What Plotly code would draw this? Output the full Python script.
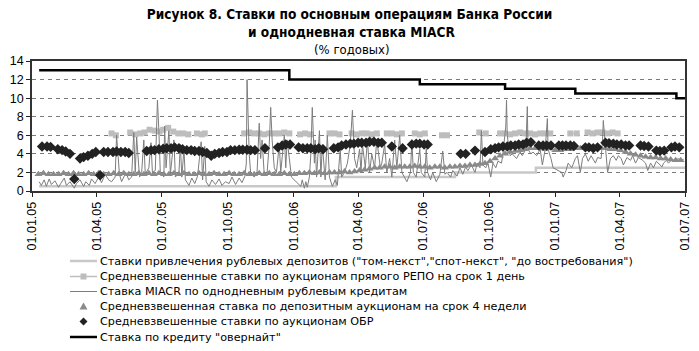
import plotly.graph_objects as go
import pandas as pd

# ---------------- data ----------------
# Overnight credit rate (step line)
overnight_dates = ['2005-01-11', '2005-12-26', '2006-06-26', '2006-10-23',
                   '2007-01-29', '2007-06-19', '2007-07-01']
overnight_vals = [13, 12, 11.5, 11, 10.5, 10, 10]

# Deposit rates tom-next / spot-next / call (step line)
deposit_dates = ['2005-01-11', '2006-03-01', '2006-08-14', '2006-12-05', '2007-07-01']
deposit_vals = [0.5, 1.5, 2.0, 2.5, 2.5]

# Weighted average 1-day direct REPO auction rates (None = no auctions)
repo_dates = [
    '2005-04-22', '2005-04-28', '2005-05-08',
    '2005-05-18', '2005-05-25', '2005-06-01', '2005-06-04',
    '2005-06-07', '2005-06-14', '2005-06-21', '2005-06-28', '2005-06-30',
    '2005-07-03', '2005-07-10', '2005-07-17', '2005-07-24', '2005-07-31', '2005-08-07', '2005-08-12',
    '2005-08-19', '2005-08-26', '2005-08-30', '2005-09-10',
    '2005-10-24', '2005-10-31', '2005-11-07', '2005-11-14', '2005-11-21', '2005-11-28',
    '2005-12-05', '2005-12-12', '2005-12-19', '2005-12-26', '2006-01-02',
    '2006-01-10', '2006-01-17', '2006-01-24', '2006-02-10',
    '2006-02-20', '2006-02-27', '2006-03-06', '2006-03-15',
    '2006-03-23', '2006-03-30', '2006-04-06', '2006-04-13', '2006-04-20', '2006-04-27', '2006-05-05',
    '2006-05-11', '2006-05-18', '2006-05-25', '2006-06-01', '2006-06-10',
    '2006-06-19', '2006-06-26', '2006-07-03', '2006-07-15',
    '2006-07-27', '2006-08-03', '2006-08-20',
    '2006-09-17', '2006-09-26', '2006-10-05',
    '2006-10-16', '2006-10-23', '2006-10-30', '2006-11-06', '2006-11-13', '2006-11-20',
    '2006-11-27', '2006-12-04', '2006-12-11', '2006-12-18', '2006-12-25', '2007-01-10',
    '2007-01-22', '2007-01-31', '2007-02-08',
    '2007-02-15', '2007-02-22', '2007-03-01', '2007-03-08', '2007-03-15', '2007-03-22', '2007-03-29',
]
repo_vals = [
    6.2, 6.0, None,
    6.3, 6.1, 6.2, None,
    6.3, 6.6, 6.5, 6.4, None,
    6.6, 6.8, 6.4, 6.2, 6.2, 6.1, None,
    6.2, 6.1, 6.2, None,
    6.2, 6.3, 6.2, 6.2, 6.1, 6.2,
    6.2, 6.2, 6.3, 6.2, None,
    6.1, 6.2, 6.1, None,
    6.2, 6.2, 6.1, None,
    6.2, 6.1, 6.2, 6.2, 6.1, 6.2, None,
    6.2, 6.2, 6.1, 6.2, None,
    6.2, 6.1, 6.2, None,
    6.0, 6.0, None,
    6.3, 6.2, None,
    6.2, 6.2, 6.1, 6.2, 6.3, 6.2,
    6.2, 6.1, 6.2, 6.2, 6.2, None,
    6.2, 6.2, None,
    6.3, 6.2, 6.3, 6.3, 6.2, 6.3, 6.2,
]

# MIACR overnight interbank rate
miacr_dates = [
    '2005-01-11', '2005-01-14', '2005-01-18', '2005-01-21', '2005-01-25', '2005-01-28',
    '2005-02-02', '2005-02-07', '2005-02-10', '2005-02-15', '2005-02-18', '2005-02-23',
    '2005-03-01', '2005-03-04', '2005-03-09', '2005-03-14', '2005-03-17', '2005-03-22', '2005-03-25', '2005-03-30',
    '2005-04-04', '2005-04-08', '2005-04-13', '2005-04-18', '2005-04-22', '2005-04-27', '2005-04-29',
    '2005-05-03', '2005-05-06', '2005-05-12', '2005-05-16', '2005-05-20', '2005-05-23', '2005-05-25', '2005-05-27', '2005-05-31',
    '2005-06-03', '2005-06-06', '2005-06-08', '2005-06-13', '2005-06-16', '2005-06-18', '2005-06-22', '2005-06-24', '2005-06-25', '2005-06-27', '2005-06-29',
    '2005-07-04', '2005-07-05', '2005-07-07', '2005-07-11', '2005-07-13', '2005-07-18', '2005-07-20', '2005-07-25', '2005-07-27', '2005-07-29',
    '2005-08-01', '2005-08-03', '2005-08-08', '2005-08-12', '2005-08-16', '2005-08-20', '2005-08-25', '2005-08-27', '2005-08-30',
    '2005-09-01', '2005-09-05', '2005-09-09', '2005-09-14', '2005-09-19', '2005-09-23', '2005-09-28',
    '2005-10-03', '2005-10-07', '2005-10-12', '2005-10-17', '2005-10-21', '2005-10-25', '2005-10-27', '2005-10-28', '2005-10-31',
    '2005-11-02', '2005-11-07', '2005-11-11', '2005-11-14', '2005-11-16', '2005-11-18', '2005-11-21', '2005-11-25', '2005-11-28', '2005-11-30',
    '2005-12-02', '2005-12-05', '2005-12-08', '2005-12-12', '2005-12-14', '2005-12-19', '2005-12-21', '2005-12-23', '2005-12-27', '2005-12-29',
    '2006-01-11', '2006-01-13', '2006-01-16', '2006-01-18', '2006-01-20', '2006-01-23', '2006-01-25', '2006-01-27', '2006-01-30', '2006-01-31',
    '2006-02-02', '2006-02-06', '2006-02-08', '2006-02-10', '2006-02-14', '2006-02-17', '2006-02-20', '2006-02-24', '2006-02-28',
    '2006-03-03', '2006-03-07', '2006-03-09', '2006-03-13', '2006-03-17', '2006-03-21', '2006-03-24', '2006-03-27', '2006-03-30',
    '2006-04-03', '2006-04-05', '2006-04-07', '2006-04-11', '2006-04-14', '2006-04-17', '2006-04-20', '2006-04-24', '2006-04-27',
    '2006-05-02', '2006-05-04', '2006-05-08', '2006-05-11', '2006-05-15', '2006-05-18', '2006-05-22', '2006-05-25', '2006-05-29',
    '2006-06-01', '2006-06-05', '2006-06-08', '2006-06-13', '2006-06-15', '2006-06-17', '2006-06-21', '2006-06-26', '2006-06-28',
    '2006-07-03', '2006-07-05', '2006-07-07', '2006-07-11', '2006-07-14', '2006-07-19', '2006-07-24', '2006-07-28', '2006-07-31',
    '2006-08-03', '2006-08-08', '2006-08-11', '2006-08-17', '2006-08-21', '2006-08-25', '2006-08-29',
    '2006-09-01', '2006-09-06', '2006-09-11', '2006-09-14', '2006-09-18', '2006-09-20', '2006-09-22', '2006-09-26', '2006-09-29',
    '2006-10-03', '2006-10-06', '2006-10-10', '2006-10-13', '2006-10-18', '2006-10-20', '2006-10-24', '2006-10-25', '2006-10-26', '2006-10-30',
    '2006-11-02', '2006-11-08', '2006-11-13', '2006-11-16', '2006-11-21', '2006-11-23', '2006-11-24', '2006-11-28',
    '2006-12-01', '2006-12-06', '2006-12-11', '2006-12-14', '2006-12-18', '2006-12-21', '2006-12-22', '2006-12-26', '2006-12-29',
    '2007-01-10', '2007-01-12', '2007-01-16', '2007-01-19', '2007-01-24', '2007-01-29',
    '2007-02-01', '2007-02-05', '2007-02-08', '2007-02-12', '2007-02-16', '2007-02-20', '2007-02-26',
    '2007-03-01', '2007-03-06', '2007-03-08', '2007-03-09', '2007-03-12', '2007-03-15', '2007-03-19', '2007-03-23', '2007-03-27', '2007-03-30',
    '2007-04-03', '2007-04-06', '2007-04-11', '2007-04-16', '2007-04-19', '2007-04-23', '2007-04-27',
    '2007-05-03', '2007-05-07', '2007-05-10', '2007-05-14', '2007-05-18', '2007-05-22', '2007-05-25', '2007-05-30',
    '2007-06-01', '2007-06-05', '2007-06-08', '2007-06-13', '2007-06-18', '2007-06-21', '2007-06-26', '2007-06-29',
]
miacr_vals = [
    1.0, 0.6, 1.2, 0.5, 1.3, 0.7,
    1.1, 0.4, 0.8, 1.4, 0.6, 1.0,
    0.3, 0.8, 1.2, 0.5, 1.0, 0.6, 1.3, 0.8,
    1.5, 0.9, 1.8, 1.2, 1.0, 1.5, 6.0,
    1.8, 1.0, 2.0, 1.2, 1.5, 6.3, 2.0, 5.8, 1.5,
    2.0, 5.5, 1.8, 2.5, 5.2, 2.0, 2.2, 6.0, 9.8, 6.5, 2.0,
    1.5, 7.0, 2.5, 6.5, 1.8, 5.5, 1.5, 2.0, 5.0, 1.5,
    4.5, 1.2, 0.6, 1.4, 0.8, 1.6, 5.3, 1.2, 4.8,
    1.0, 0.5, 1.2, 0.7, 1.3, 0.6, 1.0,
    0.8, 1.5, 0.7, 1.4, 0.9, 1.6, 3.0, 12.0, 4.0,
    2.0, 1.5, 2.0, 7.3, 3.5, 5.5, 1.8, 2.0, 5.0, 9.0,
    5.5, 2.5, 2.0, 5.0, 2.0, 6.0, 2.5, 5.5, 3.0, 1.5,
    0.5, 1.2, 0.3, 1.0, 0.4, 1.5, 4.0, 9.0, 3.0, 5.5,
    1.5, 6.5, 1.5, 5.0, 1.2, 6.0, 1.5, 0.5, 1.2,
    0.6, 4.5, 1.5, 2.0, 3.0, 5.0, 8.7, 3.5, 2.5,
    4.5, 2.0, 5.0, 2.5, 5.5, 2.0, 4.0, 2.5, 5.5,
    2.5, 3.0, 5.0, 2.0, 3.5, 1.5, 5.5, 2.5, 6.0,
    2.0, 1.5, 1.0, 2.0, 5.5, 2.0, 1.5, 4.5, 2.0,
    1.5, 4.5, 2.0, 1.2, 2.0, 1.0, 1.8, 4.3, 1.8,
    2.0, 1.5, 2.2, 1.6, 2.5, 1.8, 2.6,
    2.2, 2.8, 2.0, 3.0, 2.5, 6.5, 2.8, 2.5, 3.0,
    1.5, 3.0, 2.5, 3.2, 3.0, 4.0, 7.0, 9.8, 6.0, 3.8,
    4.0, 3.5, 4.2, 3.8, 4.5, 9.1, 4.5, 4.0,
    4.2, 3.8, 4.5, 2.8, 4.5, 7.8, 4.5, 3.5, 2.5,
    2.0, 1.5, 2.2, 3.0, 2.5, 3.5,
    3.8, 2.0, 3.5, 4.0, 3.2, 3.8, 3.0,
    3.6, 3.5, 5.5, 7.6, 4.5, 2.0, 3.5, 3.8, 3.3, 3.8,
    3.5, 2.8, 3.6, 3.3, 3.8, 3.0, 3.6,
    3.3, 3.0, 2.2, 3.0, 2.5, 3.2, 3.0, 2.6,
    3.0, 3.3, 3.0, 3.4, 3.2, 3.5, 3.3, 3.4,
]

# Weighted average rate of 4-week deposit auctions (weekly, from 10.01.2005)
dep4w_start = '2005-01-10'
dep4w_vals = [
    1.8, 1.9, 1.8, 1.8,            # Jan 2005
    1.8, 1.9, 1.8, 1.9,            # Feb
    1.8, 1.8, 1.9, 1.8,            # Mar
    1.9, 1.8, 1.8, 1.9,            # Apr
    1.8, 1.9, 1.8, 1.8, 1.9,       # May
    1.8, 1.9, 1.8, 1.9,            # Jun
    1.8, 1.8, 1.9, 1.8,            # Jul
    1.9, 1.8, 1.8, 1.9, 1.8,       # Aug
    1.8, 1.9, 1.8, 1.8,            # Sep
    1.9, 1.8, 1.8, 1.9, 1.8,       # Oct
    1.8, 1.9, 1.8, 1.9,            # Nov
    1.8, 1.8, 1.9, 1.8,            # Dec
    1.8, 1.9, 1.9, 2.0, 1.9,       # Jan 2006
    2.0, 1.9, 2.0, 2.0,            # Feb
    2.0, 2.1, 2.0, 2.1,            # Mar
    2.2, 2.3, 2.4, 2.5,            # Apr
    2.5, 2.6, 2.6, 2.5, 2.6,       # May
    2.6, 2.6, 2.7, 2.6,            # Jun
    2.6, 2.5, 2.6, 2.6, 2.5,       # Jul
    2.6, 2.6, 2.7, 2.7,            # Aug
    2.8, 2.8, 2.9, 3.0,            # Sep
    3.2, 3.5, 3.8, 4.0, 4.2,       # Oct
    4.3, 4.4, 4.5, 4.6,            # Nov
    4.6, 4.6, 4.5, 4.6,            # Dec
    4.4, 4.4, 4.5, 4.5, 4.6,       # Jan 2007
    4.6, 4.7, 4.7, 4.6,            # Feb
    4.6, 4.6, 4.5, 4.5,            # Mar
    4.4, 4.2, 4.0, 3.9, 3.8,       # Apr
    3.7, 3.6, 3.6, 3.5,            # May
    3.5, 3.4, 3.3, 3.3,            # Jun
]
dep4w_dates = pd.date_range(dep4w_start, periods=len(dep4w_vals), freq='7D')

# Weighted average rates of OBR (Bank of Russia bonds) auctions
obr_dates = [
    '2005-01-15', '2005-01-22', '2005-01-27', '2005-02-06', '2005-02-12', '2005-02-17', '2005-02-23',
    '2005-03-01', '2005-03-09', '2005-03-14', '2005-03-20', '2005-03-26', '2005-03-31',
    '2005-04-06', '2005-04-11', '2005-04-17', '2005-04-24', '2005-04-29', '2005-05-05', '2005-05-11', '2005-05-16',
    '2005-06-10', '2005-06-16', '2005-06-21', '2005-06-27', '2005-07-03', '2005-07-08', '2005-07-14',
    '2005-07-19', '2005-07-25', '2005-07-30', '2005-08-05', '2005-08-11', '2005-08-16', '2005-08-22',
    '2005-08-27', '2005-09-02', '2005-09-08', '2005-09-13', '2005-09-19', '2005-09-24', '2005-09-30',
    '2005-10-05', '2005-10-11', '2005-10-17', '2005-10-22', '2005-10-28', '2005-11-02', '2005-11-08',
    '2005-11-22', '2005-12-10', '2005-12-16', '2005-12-21', '2005-12-27',
    '2006-01-08', '2006-01-14', '2006-01-20', '2006-01-25', '2006-01-31', '2006-02-05', '2006-02-11',
    '2006-02-26', '2006-03-04', '2006-03-09', '2006-03-15', '2006-03-21', '2006-03-26', '2006-04-01',
    '2006-04-06', '2006-04-12', '2006-04-17', '2006-04-23', '2006-04-29', '2006-05-04', '2006-05-18',
    '2006-06-02', '2006-06-15', '2006-06-21', '2006-06-26', '2006-07-02', '2006-07-07',
    '2006-08-22', '2006-08-29', '2006-09-11', '2006-09-25', '2006-10-03', '2006-10-09', '2006-10-14',
    '2006-10-20', '2006-10-26', '2006-10-31', '2006-11-06', '2006-11-11', '2006-11-17', '2006-11-22',
    '2006-11-28', '2006-12-09', '2006-12-15', '2006-12-20', '2006-12-26',
    '2007-01-06', '2007-01-11', '2007-01-16', '2007-01-22', '2007-01-27', '2007-02-12', '2007-02-17',
    '2007-02-23', '2007-03-01', '2007-03-12', '2007-03-17', '2007-03-23', '2007-03-28', '2007-04-03',
    '2007-04-09', '2007-04-14', '2007-04-30', '2007-05-05', '2007-05-11', '2007-05-22', '2007-05-27',
    '2007-06-02', '2007-06-12', '2007-06-17', '2007-06-23',
]
obr_vals = [
    4.8, 4.8, 4.75, 4.5, 4.4, 4.25, 4.0,
    1.3, 3.5, 3.65, 3.8, 4.0, 4.2,
    1.7, 4.2, 4.2, 4.2, 4.25, 4.2, 4.2, 4.1,
    4.3, 4.4, 4.4, 4.5, 4.55, 4.6, 4.6,
    4.7, 4.6, 4.5, 4.4, 4.4, 4.3, 4.3,
    4.2, 4.1, 3.8, 4.0, 4.1, 4.2, 4.2,
    4.4, 4.4, 4.45, 4.45, 4.45, 4.4, 4.4,
    4.6, 4.7, 4.9, 5.0, 5.0,
    4.7, 4.6, 4.6, 4.6, 4.5, 4.6, 4.5,
    4.6, 4.7, 4.9, 5.0, 5.1, 5.1, 5.2,
    5.2, 5.2, 5.3, 5.3, 5.2, 5.2, 4.8,
    4.6, 5.0, 5.1, 5.1, 5.0, 5.0,
    4.0, 4.0, 4.35, 4.2, 4.5, 4.6, 4.7,
    4.8, 4.8, 4.9, 4.9, 5.0, 5.0, 5.2,
    5.25, 4.9, 4.9, 4.9, 4.9,
    4.9, 4.9, 4.9, 4.9, 4.85, 4.7, 4.7,
    4.6, 4.7, 5.2, 5.15, 5.1, 5.0, 5.0,
    4.9, 4.9, 4.9, 4.85, 4.8, 4.35, 4.3,
    4.35, 4.7, 4.8, 4.7,
]

legend_names = [
    'Ставки привлечения рублевых депозитов ("том-некст","спот-некст", "до востребования")',
    'Средневзвешенные ставки по аукционам прямого РЕПО на срок 1 день',
    'Ставка MIACR по однодневным рублевым кредитам',
    'Средневзвешенная ставка по депозитным аукционам на срок 4 недели',
    'Средневзвешенные ставки по аукционам ОБР',
    'Ставка по кредиту "овернайт"',
]

title_line1 = 'Рисунок 8. Ставки по основным операциям Банка России'
title_line2 = 'и однодневная ставка MIACR'
title_line3 = '(% годовых)'

# ---------------- styling / layout ----------------
W, H = 699, 351
ML, MR, MT, MB = 32, 14, 61, 160
PW, PH = W - ML - MR, H - MT - MB


def px(x):
    return (x - ML) / PW


def py(y):
    return (H - MB - y) / PH


C_DEP = '#c8c8c8'
C_REPO = '#bdbdbd'
C_MIACR = '#7d7d7d'
C_TRI = '#8a8a8a'
C_OBR = '#222222'
C_ON = '#000000'
FONT = 'Liberation Sans, Arial, sans-serif'
LEG_FONT = 'DejaVu Sans, Verdana, sans-serif'
TITLE_FONT = 'Liberation Sans Narrow, Arial Narrow, DejaVu Sans Condensed, sans-serif'

fig = go.Figure()
fig.add_trace(go.Scatter(x=deposit_dates, y=deposit_vals, mode='lines', line_shape='hv',
                         line=dict(color=C_DEP, width=2.5), name=legend_names[0], showlegend=False))
fig.add_trace(go.Scatter(x=repo_dates, y=repo_vals, mode='lines+markers', connectgaps=False,
                         line=dict(color=C_REPO, width=1.5),
                         marker=dict(symbol='square', size=6, color=C_REPO),
                         name=legend_names[1], showlegend=False))
fig.add_trace(go.Scatter(x=miacr_dates, y=miacr_vals, mode='lines',
                         line=dict(color=C_MIACR, width=1), name=legend_names[2], showlegend=False))
fig.add_trace(go.Scatter(x=dep4w_dates, y=dep4w_vals, mode='markers',
                         marker=dict(symbol='triangle-up', size=7, color=C_TRI),
                         name=legend_names[3], showlegend=False))
fig.add_trace(go.Scatter(x=obr_dates, y=obr_vals, mode='markers',
                         marker=dict(symbol='diamond', size=8, color=C_OBR),
                         name=legend_names[4], showlegend=False))
fig.add_trace(go.Scatter(x=overnight_dates, y=overnight_vals, mode='lines', line_shape='hv',
                         line=dict(color=C_ON, width=2.5), name=legend_names[5], showlegend=False))

xr = ['2005-01-01', '2007-07-01']

# ---- custom legend (compact rows like the original) ----
rows = [261, 276.5, 291.5, 306.5, 321.5, 337]
shapes = []
annotations = []
line_styles = [(C_DEP, 2.5), (C_REPO, 1.5), (C_MIACR, 1), None, None, (C_ON, 2.5)]
for i, ry in enumerate(rows):
    st = line_styles[i]
    if st is not None:
        shapes.append(dict(type='line', xref='paper', yref='paper',
                           x0=px(70), x1=px(97), y0=py(ry), y1=py(ry),
                           line=dict(color=st[0], width=st[1])))
    annotations.append(dict(text=legend_names[i], xref='paper', yref='paper',
                            x=px(98), y=py(ry), xanchor='left', yanchor='middle',
                            showarrow=False, font=dict(family=LEG_FONT, size=11.2, color='black')))
# square marker on REPO sample
shapes.append(dict(type='rect', xref='paper', yref='paper', xsizemode='pixel', ysizemode='pixel',
                   xanchor=px(83.5), yanchor=py(rows[1]), x0=-3, x1=3, y0=-3, y1=3,
                   fillcolor=C_REPO, line=dict(width=0)))
# triangle sample
shapes.append(dict(type='path', xref='paper', yref='paper', xsizemode='pixel', ysizemode='pixel',
                   xanchor=px(83.5), yanchor=py(rows[3]), path='M -4 -3 L 4 -3 L 0 4 Z',
                   fillcolor=C_TRI, line=dict(width=0)))
# diamond sample
shapes.append(dict(type='path', xref='paper', yref='paper', xsizemode='pixel', ysizemode='pixel',
                   xanchor=px(83.5), yanchor=py(rows[4]), path='M -4 0 L 0 4 L 4 0 L 0 -4 Z',
                   fillcolor=C_OBR, line=dict(width=0)))

# second (bold) title line and the units line
annotations.append(dict(text='<b>' + title_line2 + '</b>', xref='paper', yref='paper',
                        x=px(351), y=py(32), xanchor='center', yanchor='middle', showarrow=False,
                        font=dict(family=TITLE_FONT, size=13.6, color='black')))
annotations.append(dict(text=title_line3, xref='paper', yref='paper', x=px(352), y=py(49),
                        xanchor='center', yanchor='middle', showarrow=False,
                        font=dict(family=TITLE_FONT, size=13, color='black')))

fig.update_layout(
    width=W, height=H,
    margin=dict(l=ML, r=MR, t=MT, b=MB, autoexpand=False),
    paper_bgcolor='white', plot_bgcolor='white',
    title=dict(text='<b>' + title_line1 + '</b>',
               x=0.5, xanchor='center', xref='container', y=1 - 14.5 / H, yanchor='middle',
               yref='container', font=dict(family=TITLE_FONT, size=13.6, color='black')),
    font=dict(family=FONT, size=12, color='black'),
    showlegend=False,
    xaxis=dict(type='date', range=xr, tick0='2005-01-01', dtick='M3', tickformat='%d.%m.%y',
               tickangle=-90, ticks='outside', ticklen=4, tickwidth=1, tickcolor='#222',
               showgrid=False, showline=True, linecolor='#333', linewidth=1.5, mirror=True,
               zeroline=False, automargin=False, tickfont=dict(size=12.5, color='black')),
    xaxis2=dict(type='date', range=xr, tick0='2005-01-01', dtick='M3', overlaying='x', anchor='y',
                side='bottom', ticks='inside', ticklen=4, tickwidth=1, tickcolor='#222',
                showticklabels=False, showgrid=False, showline=False, zeroline=False),
    yaxis=dict(range=[0, 14], tick0=0, dtick=2, ticks='outside', ticklen=4, tickwidth=1,
               tickcolor='#222', showgrid=True, gridcolor='#7a7a7a', griddash='4px,4px', gridwidth=1,
               showline=True, linecolor='#333', linewidth=1.5, mirror=True, zeroline=False,
               automargin=False, tickfont=dict(size=12.5, color='black')),
    shapes=shapes,
    annotations=annotations,
)

fig.write_html('out.html')
